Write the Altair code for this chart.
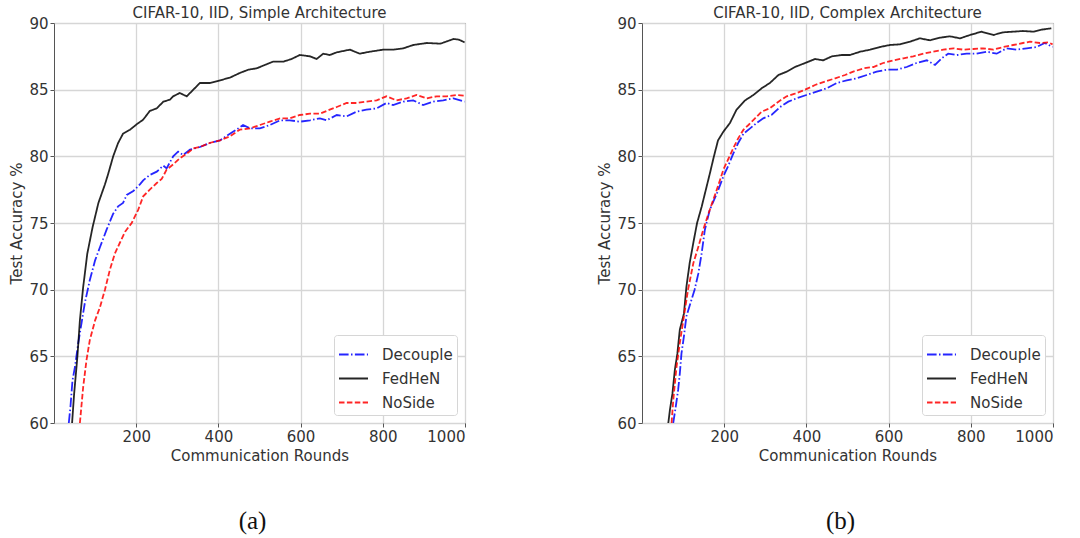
import altair as alt
import pandas as pd

METHODS = ["Decouple", "FedHeN", "NoSide"]
COLORS = ["#0000ff", "#000000", "#ff0000"]
DASHES = [[9.6, 2.4, 1.5, 2.4], [1, 0], [5.5, 2.4]]

X_TICKS = [200, 400, 600, 800, 1000]
Y_TICKS = [60, 65, 70, 75, 80, 85, 90]

TITLE_A = "CIFAR-10, IID, Simple Architecture"
TITLE_B = "CIFAR-10, IID, Complex Architecture"

# ---- Panel (a) ----
a_fed_r = [44, 49, 57, 63, 71, 81, 94, 108, 124, 132, 144, 156, 168, 185, 201, 217, 233, 250, 266, 282,
           290, 306, 323, 339, 355, 379, 404, 428, 452, 473, 493, 517, 533, 558, 578, 598, 623, 639, 655, 671,
           688, 720, 744, 769, 801, 825, 850, 874, 907, 940, 972, 985, 999]
a_fed_v = [60.0, 62.2, 65.0, 67.7, 70.2, 72.7, 74.7, 76.5, 77.9, 78.7, 80.0, 81.0, 81.7, 82.0, 82.4, 82.75, 83.4, 83.6, 84.1, 84.25,
           84.5, 84.75, 84.5, 85.0, 85.5, 85.5, 85.7, 85.9, 86.25, 86.5, 86.6, 86.9, 87.1, 87.1, 87.3, 87.6, 87.5, 87.3, 87.7, 87.6,
           87.8, 88.0, 87.7, 87.85, 88.0, 88.0, 88.1, 88.35, 88.5, 88.45, 88.8, 88.75, 88.55]

a_dec_r = [36, 40, 45, 51, 59, 67, 75, 87, 100, 112, 128, 144, 156, 168, 177, 193, 209, 217, 233, 250,
           266, 274, 290, 302, 314, 331, 355, 379, 404, 428, 444, 460, 477, 501, 525, 550, 574, 598, 623, 647,
           663, 688, 712, 736, 760, 785, 809, 825, 850, 874, 898, 923, 947, 972, 999]
a_dec_v = [60.0, 61.2, 63.2, 64.2, 66.0, 67.5, 69.0, 70.7, 72.2, 73.2, 74.5, 75.7, 76.25, 76.5, 77.1, 77.4, 77.9, 78.2, 78.6, 78.85,
           79.3, 79.1, 80.0, 80.35, 80.1, 80.5, 80.7, 81.0, 81.2, 81.7, 82.0, 82.35, 82.1, 82.1, 82.35, 82.7, 82.7, 82.6, 82.7, 82.85,
           82.7, 83.1, 83.0, 83.35, 83.5, 83.6, 84.0, 83.85, 84.1, 84.2, 83.85, 84.1, 84.2, 84.35, 84.1]

a_nos_r = [63, 71, 79, 87, 100, 112, 124, 136, 148, 160, 173, 189, 205, 217, 233, 250, 262, 274, 290, 306,
           323, 339, 355, 379, 404, 428, 452, 477, 501, 525, 550, 574, 598, 623, 647, 671, 688, 712, 736, 760,
           785, 809, 833, 858, 882, 907, 931, 955, 980, 999]
a_nos_v = [60.0, 62.7, 64.7, 66.2, 67.7, 68.7, 70.0, 71.5, 72.7, 73.5, 74.35, 75.0, 76.0, 77.0, 77.5, 78.0, 78.3, 79.0, 79.4, 79.85,
           80.2, 80.6, 80.7, 81.0, 81.2, 81.5, 82.0, 82.1, 82.35, 82.6, 82.85, 82.85, 83.1, 83.2, 83.2, 83.5, 83.7, 84.0, 84.0, 84.1,
           84.2, 84.5, 84.2, 84.35, 84.6, 84.35, 84.5, 84.5, 84.6, 84.55]

# ---- Panel (b) ----
b_fed_r = [64, 68, 74, 80, 86, 92, 102, 108, 116, 126, 134, 145, 157, 165, 175, 185, 198, 214, 230, 251,
           271, 291, 311, 332, 352, 372, 397, 421, 441, 462, 486, 506, 531, 555, 579, 603, 628, 652, 676, 701,
           725, 749, 774, 798, 826, 855, 879, 903, 927, 952, 972, 996]
b_fed_v = [60.0, 61.0, 62.2, 64.0, 65.2, 67.0, 68.2, 70.2, 72.0, 73.7, 75.0, 76.2, 77.7, 78.7, 80.0, 81.2, 81.85, 82.5, 83.5, 84.2,
           84.6, 85.1, 85.5, 86.1, 86.35, 86.7, 87.0, 87.3, 87.2, 87.5, 87.6, 87.6, 87.85, 88.0, 88.2, 88.35, 88.4, 88.6, 88.85, 88.7,
           88.9, 89.0, 88.85, 89.1, 89.35, 89.1, 89.3, 89.35, 89.4, 89.35, 89.5, 89.6]

b_dec_r = [76, 82, 88, 92, 96, 102, 108, 118, 128, 137, 145, 153, 165, 182, 198, 210, 222, 234, 247, 263,
           279, 295, 315, 336, 356, 376, 400, 425, 449, 474, 498, 522, 547, 571, 595, 620, 644, 668, 693, 713,
           729, 745, 766, 790, 814, 839, 863, 887, 912, 936, 960, 980, 999]
b_dec_v = [60.0, 61.2, 62.5, 63.7, 65.2, 66.5, 68.0, 69.0, 70.0, 71.2, 72.7, 74.5, 76.0, 77.2, 78.5, 79.3, 80.2, 81.0, 81.7, 82.1,
           82.5, 82.85, 83.1, 83.7, 84.1, 84.35, 84.6, 84.85, 85.1, 85.5, 85.7, 85.85, 86.1, 86.35, 86.5, 86.5, 86.7, 87.0, 87.2, 86.85,
           87.35, 87.7, 87.6, 87.7, 87.7, 87.85, 87.7, 88.1, 88.0, 88.1, 88.2, 88.5, 88.2]

b_nos_r = [72, 76, 84, 92, 102, 112, 125, 137, 149, 165, 182, 198, 210, 222, 234, 247, 259, 275, 291, 311,
           332, 352, 372, 397, 421, 445, 470, 494, 514, 539, 563, 587, 612, 636, 660, 685, 709, 733, 758, 782,
           806, 830, 855, 879, 903, 927, 944, 968, 988, 999]
b_nos_v = [60.0, 61.7, 64.2, 66.0, 68.0, 70.0, 72.0, 73.2, 74.5, 76.0, 77.5, 79.0, 79.8, 80.6, 81.35, 82.0, 82.35, 82.85, 83.35, 83.6,
           84.1, 84.5, 84.7, 85.0, 85.35, 85.6, 85.85, 86.1, 86.35, 86.6, 86.7, 87.0, 87.2, 87.35, 87.5, 87.7, 87.85, 88.0, 88.1, 88.0,
           88.05, 88.1, 88.0, 88.2, 88.35, 88.5, 88.6, 88.5, 88.55, 88.4]


def to_df(series):
    rows = []
    for name, rounds, vals in series:
        for r, v in zip(rounds, vals):
            rows.append({"round": r, "acc": v, "method": name})
    return pd.DataFrame(rows)


df_a = to_df([("Decouple", a_dec_r, a_dec_v), ("FedHeN", a_fed_r, a_fed_v), ("NoSide", a_nos_r, a_nos_v)])
df_b = to_df([("Decouple", b_dec_r, b_dec_v), ("FedHeN", b_fed_r, b_fed_v), ("NoSide", b_nos_r, b_nos_v)])

W, H = 411, 400

legend = alt.Legend(
    title=None, orient="bottom-right", offset=8, symbolType="stroke", symbolSize=841,
    symbolStrokeWidth=2, labelFontSize=15, labelColor="#333", labelOffset=13, rowPadding=-6,
    padding=4, fillColor="white", strokeColor="#d6d6d6", cornerRadius=3,
)


def panel(df, title, caption):
    lines = alt.Chart(df).mark_line(strokeWidth=1.8, opacity=0.85, clip=True).encode(
        x=alt.X("round:Q", scale=alt.Scale(domain=[0, 1000], nice=False),
                axis=alt.Axis(values=X_TICKS, title="Communication Rounds", format="d")),
        y=alt.Y("acc:Q", scale=alt.Scale(domain=[60, 90], nice=False, zero=False),
                axis=alt.Axis(values=Y_TICKS, title="Test Accuracy %", format="d")),
        color=alt.Color("method:N", scale=alt.Scale(domain=METHODS, range=COLORS), legend=legend),
        strokeDash=alt.StrokeDash("method:N", scale=alt.Scale(domain=METHODS, range=DASHES), legend=legend),
    )
    cap = alt.Chart(pd.DataFrame({"t": [caption]})).mark_text(
        font="Liberation Serif", fontSize=25, color="#111"
    ).encode(text="t:N", x=alt.value(W / 2 - 7), y=alt.value(498))
    return alt.layer(lines, cap, title=title).properties(width=W, height=H)


chart = alt.hconcat(
    panel(df_a, TITLE_A, "(a)"),
    panel(df_b, TITLE_B, "(b)"),
    spacing=177, bounds="flush",
).resolve_legend(
    color="independent", strokeDash="independent"
).resolve_scale(
    color="independent", strokeDash="independent"
).properties(
    padding={"left": 9, "top": 5, "right": 2, "bottom": 2},
    background="white",
).configure(font="DejaVu Sans").configure_axis(
    labelFontSize=15, titleFontSize=15, labelColor="#333", titleColor="#333",
    titleFontWeight="normal", gridColor="#d6d6d6", gridWidth=1.3, domain=False,
    tickColor="#555", tickSize=4, labelPadding=2, titlePadding=4,
).configure_view(stroke="#555", strokeWidth=1).configure_title(
    fontSize=15, fontWeight="normal", color="#333", offset=-5,
)

chart.save("out.html", embed_options={"renderer": "svg", "actions": False})
